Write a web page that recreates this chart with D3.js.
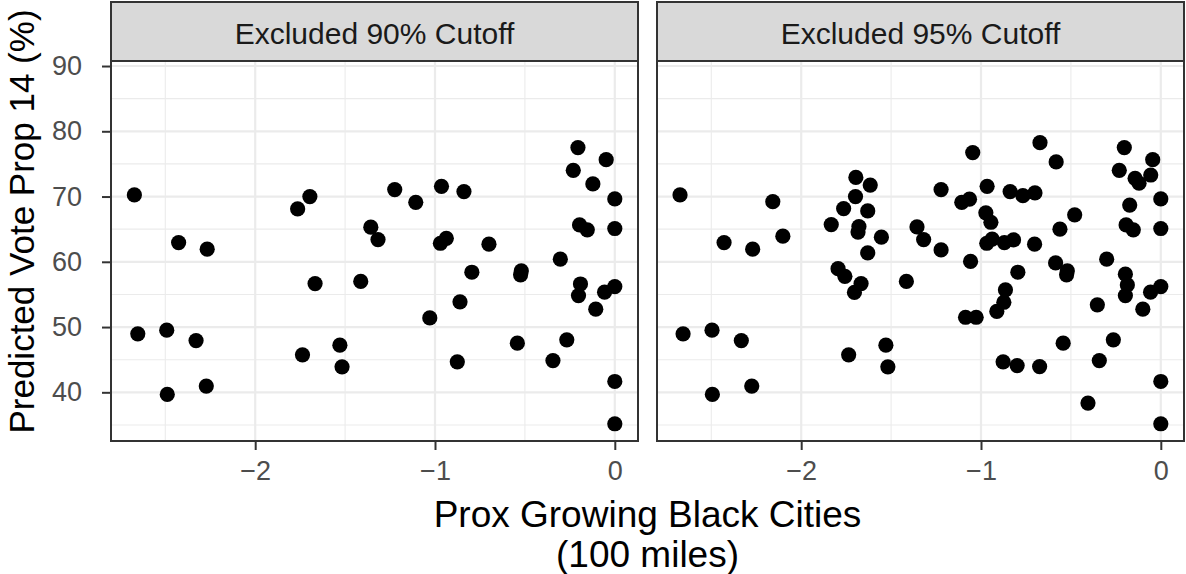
<!DOCTYPE html>
<html>
<head>
<meta charset="utf-8">
<script src="https://cdn.jsdelivr.net/npm/d3@7"></script>
<style>
  html, body { margin: 0; padding: 0; background: #ffffff; }
  svg { display: block; }
  text { font-family: "Liberation Sans", Arial, Helvetica, sans-serif; }
</style>
</head>
<body>
<svg id="chart" width="1186" height="574"></svg>
<script>
// ---- data ----
const panelTitles = ["Excluded 90% Cutoff", "Excluded 95% Cutoff"];

const x90 = [-2.672, -2.426, -2.267, -2.653, -2.492, -2.329, -2.489, -2.272,
  -1.696, -1.764, -1.224, -1.107, -0.964, -0.839, -1.357, -1.317, -0.970, -0.937,
  -1.667, -1.413, -0.795, -0.861, -1.029, -1.737, -1.529, -1.517, -0.876,
  -0.205, -0.048, -0.231, -0.122, 0.000, -0.196, -0.153, 0.000, -0.700,
  -0.520, -0.524, -0.303, -0.191, -0.202, -0.057, 0.000, -0.106, -0.542,
  -0.267, -0.344, 0.000, 0.000];
const y90 = [70.25, 62.94, 61.93, 48.96, 49.52, 47.93, 39.67, 40.95,
  70.0, 68.1, 71.06, 69.12, 71.57, 70.76, 65.3, 63.4, 62.84, 63.6,
  56.67, 57.0, 58.4, 53.86, 51.4, 45.74, 47.22, 43.9, 44.67,
  77.5, 75.65, 74.02, 71.93, 69.63, 65.65, 64.9, 65.1, 62.7,
  58.6, 58.0, 60.4, 56.6, 54.83, 55.34, 56.2, 52.74, 47.53,
  48.04, 44.87, 41.66, 35.18];

const x95 = [-2.674, -2.158, -2.102, -2.429, -2.270, -1.833, -1.795, -2.657, -2.496, -2.333,
  -2.494, -2.275, -1.696, -1.616, -1.698, -1.764, -1.630, -1.679, -1.684, -1.554,
  -1.630, -1.757, -1.667, -1.704, -1.415, -1.736, -1.529, -1.518, -1.356, -1.319,
  -1.222, -1.222, -1.046, -1.107, -1.064, -0.966, -0.838, -0.973, -0.945, -1.058,
  -0.968, -0.938, -0.870, -0.819, -0.795, -0.864, -0.873, -0.912, -1.086, -1.027,
  -0.877, -0.799, -0.674, -0.672, -0.582, -0.767, -0.700, -0.479, -0.561, -0.702,
  -0.585, -0.520, -0.524, -0.301, -0.353, -0.543, -0.264, -0.342, -0.405, -0.203,
  -0.045, -0.231, -0.056, -0.143, -0.121, 0.000, -0.173, -0.193, -0.153, 0.000,
  -0.197, -0.186, -0.197, -0.057, 0.000, -0.100, 0.000, 0.000];
const y95 = [70.25, 69.22, 63.92, 62.94, 61.93, 65.7, 58.95, 48.96, 49.52, 47.93,
  39.67, 40.95, 72.93, 71.75, 70.0, 68.15, 67.8, 65.4, 64.55, 63.77,
  61.38, 57.77, 56.67, 55.3, 57.0, 45.74, 47.22, 43.9, 65.35, 63.4,
  61.82, 71.06, 76.73, 69.12, 69.6, 71.57, 70.76, 67.5, 66.06, 60.05,
  62.84, 63.46, 62.94, 63.35, 58.4, 55.7, 53.8, 52.4, 51.5, 51.5,
  44.67, 44.1, 43.95, 78.26, 75.3, 70.14, 70.55, 67.2, 65.0, 62.7,
  59.83, 58.6, 58.0, 60.4, 53.4, 47.53, 48.04, 44.87, 38.35, 77.5,
  75.65, 74.02, 73.3, 72.8, 72.04, 69.63, 68.7, 65.65, 64.9, 65.1,
  58.1, 56.46, 54.83, 55.34, 56.2, 52.74, 41.66, 35.18];

const xMajorTicks = [-2, -1, 0];
const xMinorTicks = [-2.5, -1.5, -0.5];
const yMajorTicks = [40, 50, 60, 70, 80, 90];
const yMinorTicks = [35, 45, 55, 65, 75, 85];

const xDomain = [-2.802, 0.129];
const yDomain = [32.54, 90.77];

const xTitleLines = ["Prox Growing Black Cities", "(100 miles)"];
const yTitle = "Predicted Vote Prop 14 (%)";

// ---- layout ----
const svg = d3.select("#chart");
const stripTop = 2, panelTop = 61, panelBottom = 441, panelW = 527;
const panelLefts = [111, 657];
const panels = [
  { title: panelTitles[0], xs: x90, ys: y90 },
  { title: panelTitles[1], xs: x95, ys: y95 }
];

const y = d3.scaleLinear().domain(yDomain).range([panelBottom, panelTop]);

panels.forEach((p, i) => {
  const left = panelLefts[i];
  const x = d3.scaleLinear().domain(xDomain).range([left, left + panelW]);
  const g = svg.append("g");

  g.append("rect").attr("x", left).attr("y", panelTop)
    .attr("width", panelW).attr("height", panelBottom - panelTop)
    .attr("fill", "#ffffff");

  // minor grid
  g.selectAll(".ymin").data(yMinorTicks).enter().append("line")
    .attr("x1", left).attr("x2", left + panelW)
    .attr("y1", d => y(d)).attr("y2", d => y(d))
    .attr("stroke", "#ebebeb").attr("stroke-width", 1.1);
  g.selectAll(".xmin").data(xMinorTicks).enter().append("line")
    .attr("y1", panelTop).attr("y2", panelBottom)
    .attr("x1", d => x(d)).attr("x2", d => x(d))
    .attr("stroke", "#ebebeb").attr("stroke-width", 1.1);
  // major grid
  g.selectAll(".ymaj").data(yMajorTicks).enter().append("line")
    .attr("x1", left).attr("x2", left + panelW)
    .attr("y1", d => y(d)).attr("y2", d => y(d))
    .attr("stroke", "#ebebeb").attr("stroke-width", 2.2);
  g.selectAll(".xmaj").data(xMajorTicks).enter().append("line")
    .attr("y1", panelTop).attr("y2", panelBottom)
    .attr("x1", d => x(d)).attr("x2", d => x(d))
    .attr("stroke", "#ebebeb").attr("stroke-width", 2.2);

  // points
  g.selectAll("circle").data(p.xs.map((v, k) => [v, p.ys[k]])).enter()
    .append("circle")
    .attr("cx", d => x(d[0])).attr("cy", d => y(d[1]))
    .attr("r", 7.6).attr("fill", "#000000");

  // panel border
  g.append("rect").attr("x", left).attr("y", panelTop)
    .attr("width", panelW).attr("height", panelBottom - panelTop)
    .attr("fill", "none").attr("stroke", "#333333").attr("stroke-width", 2);

  // strip
  g.append("rect").attr("x", left).attr("y", stripTop)
    .attr("width", panelW).attr("height", panelTop - stripTop)
    .attr("fill", "#d9d9d9").attr("stroke", "#333333").attr("stroke-width", 2);
  g.append("text").attr("x", left + panelW / 2).attr("y", 43.5)
    .attr("text-anchor", "middle").attr("font-size", 30).attr("fill", "#1a1a1a")
    .text(p.title);

  // x axis
  const xa = g.append("g").attr("transform", `translate(0,${panelBottom})`)
    .call(d3.axisBottom(x).tickValues(xMajorTicks).tickSize(9).tickPadding(11)
      .tickFormat(d3.format("d")));
  xa.select(".domain").remove();
  xa.selectAll(".tick line").attr("stroke", "#333333").attr("stroke-width", 2);
  xa.selectAll(".tick text").attr("font-size", 27).attr("fill", "#4d4d4d")
    .attr("font-family", "Liberation Sans, Arial, sans-serif");

  if (i === 0) {
    const ya = g.append("g").attr("transform", `translate(${left},0)`)
      .call(d3.axisLeft(y).tickValues(yMajorTicks).tickSize(9).tickPadding(20)
        .tickFormat(d3.format("d")));
    ya.select(".domain").remove();
    ya.selectAll(".tick line").attr("stroke", "#333333").attr("stroke-width", 2);
    ya.selectAll(".tick text").attr("font-size", 27).attr("fill", "#4d4d4d")
      .attr("font-family", "Liberation Sans, Arial, sans-serif");
  }
});

// axis titles
const xCenter = (panelLefts[0] + panelLefts[1] + panelW) / 2;
svg.append("text").attr("x", xCenter).attr("y", 527)
  .attr("text-anchor", "middle").attr("font-size", 37).attr("fill", "#000")
  .text(xTitleLines[0]);
svg.append("text").attr("x", xCenter).attr("y", 567)
  .attr("text-anchor", "middle").attr("font-size", 37).attr("fill", "#000")
  .text(xTitleLines[1]);
svg.append("text")
  .attr("transform", `translate(34,${(stripTop + panelBottom) / 2}) rotate(-90)`)
  .attr("text-anchor", "middle").attr("font-size", 35).attr("fill", "#000")
  .text(yTitle);
</script>
</body>
</html>
